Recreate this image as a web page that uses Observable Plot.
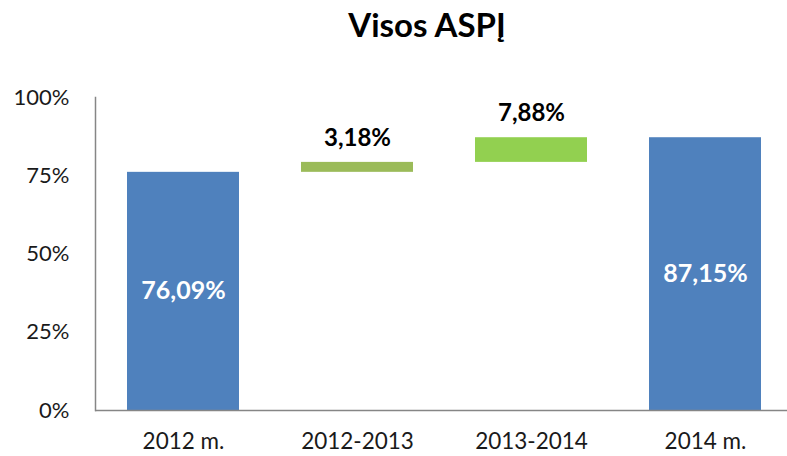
<!DOCTYPE html>
<html>
<head>
<meta charset="utf-8">
<script src="https://cdn.jsdelivr.net/npm/d3@7"></script>
<script src="https://cdn.jsdelivr.net/npm/@observablehq/plot@0.6"></script>
<style>
  html, body { margin: 0; padding: 0; background: #fff; }
  #wrap { width: 787px; height: 456px; position: relative; overflow: hidden; font-family: Lato, "Open Sans", sans-serif; }
  #title { position: absolute; left: 0; width: 854px; top: 8px; text-align: center; font-size: 33px; font-weight: bold; line-height: 33px; color: #000; }
  #chart { position: absolute; left: 0; top: 50px; }
</style>
</head>
<body>
<div id="wrap">
  <div id="title">Visos ASPĮ</div>
  <div id="chart"></div>
</div>
<script>
const categories = ["2012 m.", "2012-2013", "2013-2014", "2014 m."];
const values = [76.09, 3.18, 7.88, 87.15];
const kinds = ["total", "change", "change", "total"];
const labels = ["76,09%", "3,18%", "7,88%", "87,15%"];
const yTicks = [0, 0.25, 0.5, 0.75, 1];
const colors = ["#4F81BD", "#9BBB59", "#92D050", "#4F81BD"];

let running = 0;
const rows = categories.map((c, i) => {
  let y1, y2;
  if (kinds[i] === "total") { y1 = 0; y2 = values[i] / 100; running = values[i]; }
  else { y1 = running / 100; running += values[i]; y2 = running / 100; }
  return { cat: c, y1, y2, mid: (y1 + y2) / 2, label: labels[i], kind: kinds[i], color: colors[i] };
});

const plot = Plot.plot({
  width: 787,
  height: 406,
  marginTop: 47,
  marginBottom: 46,
  marginLeft: 95,
  marginRight: 0,
  style: { fontFamily: "Lato, 'Open Sans', sans-serif", background: "transparent" },
  x: { domain: categories, range: [95, 793.7], paddingInner: 0.355, paddingOuter: 0.1775 },
  y: { domain: [0, 1] },
  marks: [
    Plot.barY(rows, { x: "cat", y1: "y1", y2: "y2", fill: "color" }),
    Plot.ruleY([0], { stroke: "#868686", strokeWidth: 1.5 }),
    Plot.frame({ anchor: "left", stroke: "#868686", strokeWidth: 1.5 }),
    Plot.axisY({ ticks: yTicks, tickFormat: d3.format(".0%"), tickSize: 0, tickPadding: 26, fontSize: 22, label: null, color: "#1a1a1a" }),
    Plot.axisX({ tickSize: 0, tickPadding: 23, fontSize: 22.5, label: null, color: "#1a1a1a" }),
    Plot.text(rows.filter(d => d.kind === "total"), { x: "cat", y: "mid", text: "label", fill: "#fff", fontSize: 25, fontWeight: "bold" }),
    Plot.text(rows.filter(d => d.kind === "change"), { x: "cat", y: "y2", text: "label", fill: "#000", fontSize: 24, fontWeight: "bold", dy: -24 })
  ]
});
document.getElementById("chart").appendChild(plot);
</script>
</body>
</html>
